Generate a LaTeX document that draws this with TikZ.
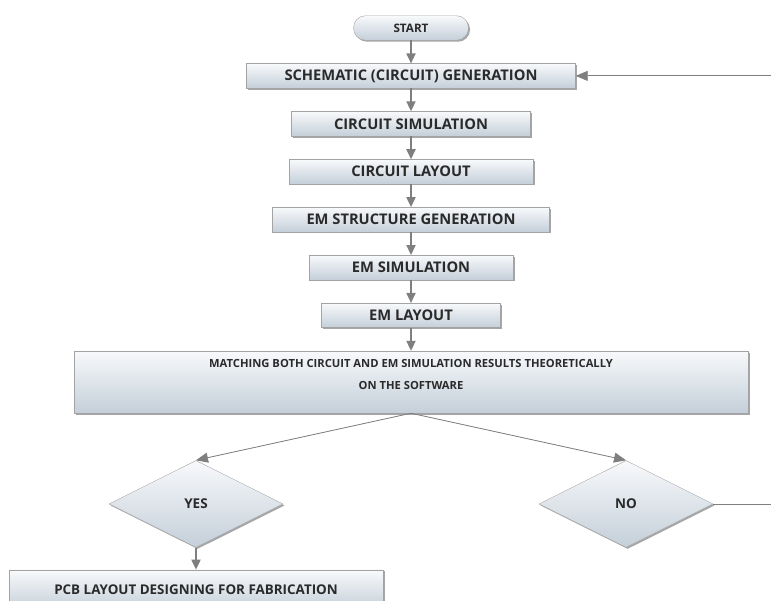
\documentclass[tikz,border=0pt]{standalone}
\usepackage{fontspec}
\setmainfont{Open Sans}
\usetikzlibrary{arrows.meta, positioning, shapes.geometric, shadows}
\definecolor{boxtop}{HTML}{F8F9FB}
\definecolor{boxbottom}{HTML}{C4CFD9}
\definecolor{boxline}{HTML}{A3A3A3}
\definecolor{arrowgray}{HTML}{7F7F7F}
\definecolor{textgray}{HTML}{2A2A2A}

\begin{document}
\begin{tikzpicture}[x=1pt, y=1pt, node distance=23pt,
  block/.style={rectangle, draw=boxline, top color=boxtop, bottom color=boxbottom, minimum height=24.5pt, inner sep=2pt, font=\fontsize{14.7}{17}\selectfont\bfseries, text=textgray, drop shadow={shadow xshift=1.5pt, shadow yshift=-1.5pt, opacity=0.35, fill=black}},
  decision/.style={diamond, draw=boxline, top color=boxtop, bottom color=boxbottom, minimum width=174pt, minimum height=87pt, inner sep=0pt, font=\fontsize{13.5}{16}\selectfont\bfseries, text=textgray, drop shadow={shadow xshift=1.5pt, shadow yshift=-1.5pt, opacity=0.35, fill=black}},
  arrow/.style={-{Triangle[length=10pt, width=9pt]}, draw=arrowgray, fill=arrowgray, line width=1.8pt},
  thinarrow/.style={-{Triangle[length=12pt, width=10pt]}, draw=arrowgray, fill=arrowgray, line width=0.8pt}]

\path[use as bounding box, clip] (0,0) rectangle (771,-601);

\node[block, rounded corners=12pt, minimum width=115pt, font=\fontsize{11.7}{14}\selectfont\bfseries] (start) at (411,-28) {START};
\node[block, minimum width=329pt, below=of start] (schem) {SCHEMATIC (CIRCUIT) GENERATION};
\node[block, minimum width=239pt, below=of schem] (csim) {CIRCUIT SIMULATION};
\node[block, minimum width=244pt, below=of csim] (clay) {CIRCUIT LAYOUT};
\node[block, minimum width=277pt, below=of clay] (emgen) {EM STRUCTURE GENERATION};
\node[block, minimum width=204pt, below=of emgen] (emsim) {EM SIMULATION};
\node[block, minimum width=179pt, below=of emsim] (emlay) {EM LAYOUT};
\node[block, minimum width=674pt, minimum height=62pt, align=center, font=\fontsize{11.2}{22}\selectfont\bfseries, below=of emlay] (match) {MATCHING BOTH CIRCUIT AND EM SIMULATION RESULTS THEORETICALLY\\ON THE SOFTWARE\\[-7pt]\mbox{}};
\node[decision, below=47pt of match.south, xshift=-215pt] (yes) {YES};
\node[decision, below=47pt of match.south, xshift=215pt] (no) {NO};
\node[block, minimum width=374pt, minimum height=40pt, anchor=north, below=22pt of yes] (pcb) {};
\node[font=\fontsize{13.4}{16}\selectfont\bfseries, text=textgray] (pcbtext) at ([yshift=-20pt]pcb.north) {PCB LAYOUT DESIGNING FOR FABRICATION};

\coordinate (loopin) at (771,0 |- schem.east);
\coordinate (loopout) at (771,0 |- no.east);

\draw[arrow] (start) -- (schem);
\draw[arrow] (schem) -- (csim);
\draw[arrow] (csim) -- (clay);
\draw[arrow] (clay) -- (emgen);
\draw[arrow] (emgen) -- (emsim);
\draw[arrow] (emsim) -- (emlay);
\draw[arrow] (emlay) -- (match);
\draw[thinarrow] (match.south) -- (yes.north);
\draw[thinarrow] (match.south) -- (no.north);
\draw[arrow] (yes) -- (pcb);
\draw[thinarrow] (loopin) -- (schem.east);
\draw[draw=arrowgray, line width=0.8pt] (no.east) -- (loopout);
\end{tikzpicture}
\end{document}
